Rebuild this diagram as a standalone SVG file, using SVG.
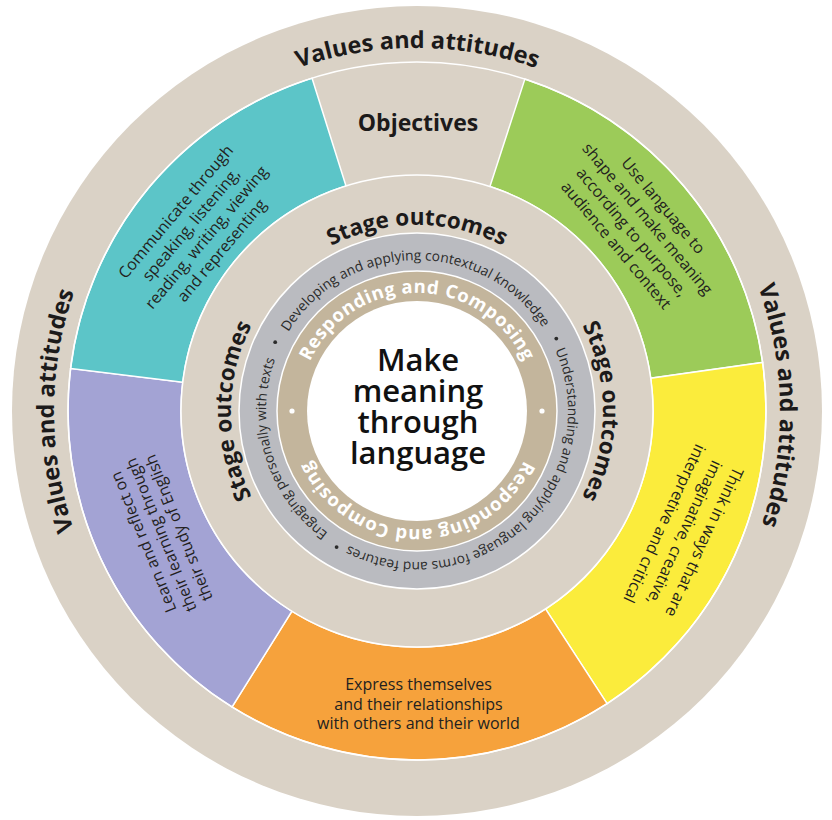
<svg xmlns="http://www.w3.org/2000/svg" xmlns:xlink="http://www.w3.org/1999/xlink" width="832" height="820" viewBox="0 0 832 820">
<style>
.beige{fill:#dad2c6}
.sep{fill:none;stroke:#fff;stroke-width:1.5}
.seg{stroke:#fff;stroke-width:1.5}
.hd{font-family:"Open Sans","Liberation Sans",sans-serif;font-weight:700;fill:#1c1a1a}
.lab{font-family:"Open Sans","Liberation Sans",sans-serif;font-size:16px;fill:#231f20;text-anchor:middle}
.gt{font-family:"Open Sans","Liberation Sans",sans-serif;font-size:13.8px;fill:#2b2b2b}
.tt{font-family:"Open Sans","Liberation Sans",sans-serif;font-size:18.5px;font-weight:700;fill:#fff;letter-spacing:0.6px}
.ctr{font-family:"Open Sans","Liberation Sans",sans-serif;font-size:31px;font-weight:600;fill:#111;text-anchor:middle}
</style>
<defs>
<path id="pValB" d="M417,774 A363,363 0 1 1 417,48 A363,363 0 1 1 417,774"/>
<path id="pStgB" d="M417,597 A186,186 0 1 1 417,225 A186,186 0 1 1 417,597"/>
<path id="pGrayB" d="M417,562 A151,151 0 1 1 417,260 A151,151 0 1 1 417,562"/>
<path id="pGrayT" d="M417,260 A151,151 0 1 1 417,562 A151,151 0 1 1 417,260"/>
<path id="pTanB" d="M417,529 A118,118 0 1 1 417,293 A118,118 0 1 1 417,529"/>
<path id="pTanT" d="M417,293 A118,118 0 1 1 417,529 A118,118 0 1 1 417,293"/>
</defs>

<g id="values-ring">
<circle class="beige" cx="417" cy="411" r="405"/>
<text class="hd" font-size="23.5" text-anchor="middle"><textPath xlink:href="#pValB" startOffset="1140.4">Values and attitudes</textPath></text>
<text class="hd" font-size="23.5" text-anchor="middle"><textPath xlink:href="#pValB" startOffset="1704.3">Values and attitudes</textPath></text>
<text class="hd" font-size="23.5" text-anchor="middle"><textPath xlink:href="#pValB" startOffset="570.2">Values and attitudes</textPath></text>
</g>

<g id="objectives">
<text class="hd" font-size="23" x="418" y="131" text-anchor="middle">Objectives</text>
</g>

<g id="obj-green">
<path class="seg" fill="#9ccb59" d="M524.85,79.08 A349,349 0 0 1 762.60,362.43 L650.70,378.16 A236,236 0 0 0 489.93,186.55 Z"/>
<text class="lab" transform="translate(639.8,225.4) rotate(50)"><tspan x="0" y="-25.2">Use language to</tspan><tspan x="0" y="-4.7">shape and make meaning</tspan><tspan x="0" y="15.8">according to purpose,</tspan><tspan x="0" y="36.3">audience and context</tspan></text>
</g>

<g id="obj-yellow">
<path class="seg" fill="#fbec3c" d="M762.60,362.43 A349,349 0 0 1 607.08,703.70 L545.54,608.93 A236,236 0 0 0 650.70,378.16 Z"/>
<text class="lab" transform="translate(684.5,532.9) rotate(115)"><tspan x="0" y="-16.4">Think in ways that are</tspan><tspan x="0" y="5.6">imaginative, creative,</tspan><tspan x="0" y="27.6">interpretive and critical</tspan></text>
</g>

<g id="obj-orange">
<path class="seg" fill="#f6a23c" d="M607.08,703.70 A349,349 0 0 1 232.06,706.97 L291.94,611.14 A236,236 0 0 0 545.54,608.93 Z"/>
<text class="lab" x="418.5" y="690"><tspan x="418.5" y="690">Express themselves</tspan><tspan x="418.5" y="709.5">and their relationships</tspan><tspan x="418.5" y="729">with others and their world</tspan></text>
</g>

<g id="obj-purple">
<path class="seg" fill="#a3a3d4" d="M232.06,706.97 A349,349 0 0 1 70.60,368.47 L182.76,382.24 A236,236 0 0 0 291.94,611.14 Z"/>
<text class="lab" transform="translate(161,535) rotate(-112)"><tspan x="0" y="-13.4">Learn and reflect on</tspan><tspan x="0" y="5.6">their learning through</tspan><tspan x="0" y="24.6">their study of English</tspan></text>
</g>

<g id="obj-cyan">
<path class="seg" fill="#5cc5c8" d="M70.60,368.47 A349,349 0 0 1 312.05,78.15 L346.03,185.92 A236,236 0 0 0 182.76,382.24 Z"/>
<text class="lab" transform="translate(198.6,231) rotate(-50)"><tspan x="0" y="-24.5">Communicate through</tspan><tspan x="0" y="-4.5">speaking, listening,</tspan><tspan x="0" y="15.5">reading, writing, viewing</tspan><tspan x="0" y="35.5">and representing</tspan></text>
</g>

<circle class="sep" cx="417" cy="411" r="349"/>

<g id="stage-ring">
<circle class="beige" cx="417" cy="411" r="236" stroke="#fff" stroke-width="1.5"/>
<text class="hd" font-size="22.5" text-anchor="middle"><textPath xlink:href="#pStgB" startOffset="584.3">Stage outcomes</textPath></text>
<text class="hd" font-size="22.5" text-anchor="middle"><textPath xlink:href="#pStgB" startOffset="876.5">Stage outcomes</textPath></text>
<text class="hd" font-size="22.5" text-anchor="middle"><textPath xlink:href="#pStgB" startOffset="292.2">Stage outcomes</textPath></text>
</g>

<g id="gray-ring">
<circle cx="417" cy="411" r="178" fill="#babbc0" stroke="#fff" stroke-width="1.5"/>
<text class="gt" text-anchor="middle"><textPath xlink:href="#pGrayB" startOffset="471.7">Developing and applying contextual knowledge</textPath></text>
<text class="gt" text-anchor="middle"><textPath xlink:href="#pGrayT" startOffset="359.8">Understanding and applying language forms and features</textPath></text>
<text class="gt" text-anchor="middle"><textPath xlink:href="#pGrayT" startOffset="666.8">Engaging personally with texts</textPath></text>
<circle cx="556.3" cy="338.6" r="1.9" fill="#2b2b2b"/>
<circle cx="336.6" cy="547.1" r="1.9" fill="#2b2b2b"/>
<circle cx="275.2" cy="342.2" r="1.9" fill="#2b2b2b"/>
</g>

<g id="tan-ring">
<circle cx="417" cy="411" r="140" fill="#c3b59c" stroke="#fff" stroke-width="1.5"/>
<text class="tt" text-anchor="middle"><textPath xlink:href="#pTanB" startOffset="370.7">Responding and Composing</textPath></text>
<text class="tt" text-anchor="middle"><textPath xlink:href="#pTanT" startOffset="370.7">Responding and Composing</textPath></text>
<circle cx="542" cy="411" r="2.6" fill="#fff"/>
<circle cx="292" cy="411" r="2.6" fill="#fff"/>
</g>

<g id="center">
<circle cx="417" cy="411" r="110" fill="#fff"/>
<text class="ctr"><tspan x="418" y="371">Make</tspan><tspan x="418" y="402">meaning</tspan><tspan x="418" y="433">through</tspan><tspan x="418" y="464">language</tspan></text>
</g>
</svg>
